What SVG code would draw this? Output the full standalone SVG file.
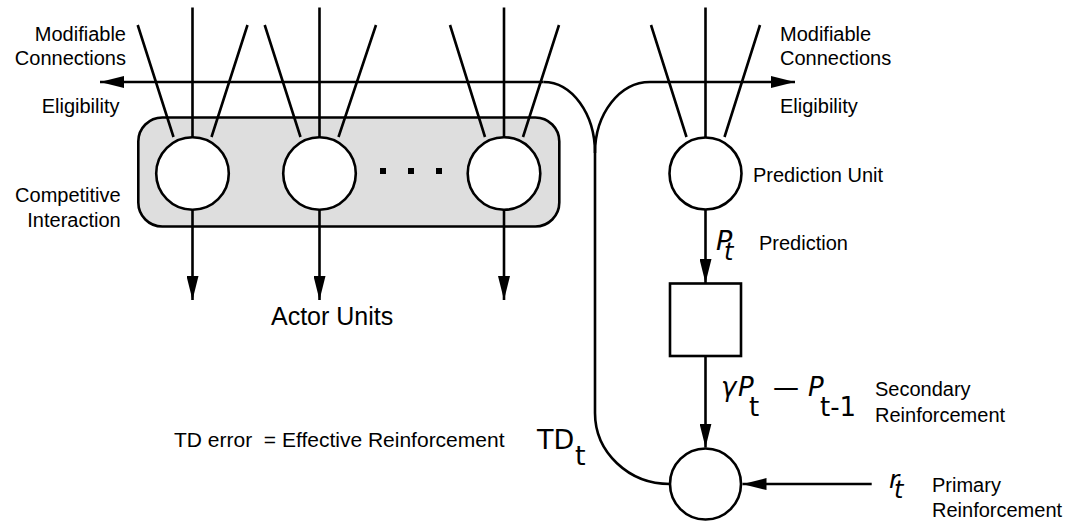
<svg xmlns="http://www.w3.org/2000/svg" width="1074" height="522" viewBox="0 0 1074 522">
<defs>
<style>
.ln{fill:none;stroke:#000;stroke-width:2.6}
.nd{fill:#fff;stroke:#000;stroke-width:2.6}
.lb{font-family:"Liberation Sans",Arial,sans-serif;font-size:20px;fill:#000}
.mt{font-family:"DejaVu Sans",sans-serif;fill:#000}
.it{font-style:italic}
.up{font-style:normal}
</style>
<marker id="ah" markerUnits="userSpaceOnUse" markerWidth="24" markerHeight="12" refX="24" refY="6" orient="auto">
<path d="M0,0 L24,6 L0,12 Z" fill="#000"/>
</marker>
</defs>
<rect width="1074" height="522" fill="#fff"/>

<g id="competition-box">
<rect x="138.3" y="117.5" width="421" height="109" rx="24" ry="24" fill="#dedede" stroke="#000" stroke-width="2.6"/>
<rect x="380" y="168" width="6" height="6" fill="#000"/>
<rect x="408" y="168" width="6" height="6" fill="#000"/>
<rect x="436" y="168" width="6" height="6" fill="#000"/>
</g>

<g id="connectors">
<path class="ln" d="M137.7,25 L173.5,137 M192.5,7.5 L192.5,137 M247.5,25 L211.5,137"/>
<path class="ln" d="M264.7,25 L300.5,137 M319.5,7.5 L319.5,137 M376,25 L338.5,137"/>
<path class="ln" d="M450,25 L485,137 M504,7.5 L504,137 M559,25 L523,137"/>
<path class="ln" d="M651,25 L686.5,137 M705.5,7.5 L705.5,137 M760,25 L724.5,137"/>
<path class="ln" d="M543.5,82 A51.5,71 0 0 1 595,153 L595,413 A75,71 0 0 0 670,484"/>
<path class="ln" d="M595,153 A55,71 0 0 1 650,82 L795,82" marker-end="url(#ah)"/>
<path class="ln" d="M543.5,82 L100,82" marker-end="url(#ah)"/>
<path class="ln" d="M192.5,210 L192.5,300" marker-end="url(#ah)"/>
<path class="ln" d="M319.5,210 L319.5,300" marker-end="url(#ah)"/>
<path class="ln" d="M504,210 L504,300" marker-end="url(#ah)"/>
<path class="ln" d="M705.5,209.5 L705.5,283" marker-end="url(#ah)"/>
<path class="ln" d="M705.5,356 L705.5,447.5" marker-end="url(#ah)"/>
<path class="ln" d="M871.7,484 L742.5,484" marker-end="url(#ah)"/>
</g>

<g id="actor-1"><circle class="nd" cx="192.5" cy="173.5" r="36.3"/></g>
<g id="actor-2"><circle class="nd" cx="319.5" cy="173.5" r="36.3"/></g>
<g id="actor-3"><circle class="nd" cx="504" cy="173.5" r="36.3"/></g>
<g id="prediction-unit"><circle class="nd" cx="705.5" cy="173.5" r="36"/></g>
<g id="delay-box"><rect class="nd" x="670" y="283.5" width="71" height="72.5"/></g>
<g id="td-unit"><circle class="nd" cx="705.5" cy="484" r="35.5"/></g>

<g id="labels">
<text class="lb" x="126" y="41" text-anchor="end">Modifiable</text>
<text class="lb" x="126" y="64.5" text-anchor="end">Connections</text>
<text class="lb" x="119.5" y="113" text-anchor="end">Eligibility</text>
<text class="lb" x="120.7" y="201.5" text-anchor="end">Competitive</text>
<text class="lb" x="120.7" y="227" text-anchor="end">Interaction</text>
<text class="lb" x="780" y="41">Modifiable</text>
<text class="lb" x="780" y="64.5">Connections</text>
<text class="lb" x="780" y="113">Eligibility</text>
<text class="lb" x="753" y="181.7">Prediction Unit</text>
<text class="lb" x="759" y="250">Prediction</text>
<text class="lb" x="875" y="396">Secondary</text>
<text class="lb" x="875" y="421.7">Reinforcement</text>
<text class="lb" x="932" y="491.7">Primary</text>
<text class="lb" x="932" y="516.7">Reinforcement</text>
<text class="lb" x="271" y="325" style="font-size:25px">Actor Units</text>
<text class="lb" x="174" y="447" style="font-size:21px" xml:space="preserve">TD error  = Effective Reinforcement</text>
<text class="mt" x="537" y="449" style="font-size:27px">TD<tspan dx="0.7" dy="16">t</tspan></text>
<text class="mt it" x="716" y="250" style="font-size:27px">P<tspan dx="-8.3" dy="10" style="font-size:24px">t</tspan></text>
<text class="mt it" x="721" y="396" style="font-size:26px">γ<tspan dx="1.6">P</tspan><tspan class="up" dx="-4.7" dy="20">t</tspan><tspan class="up" dx="13.8" dy="-20">—</tspan><tspan dx="9">P</tspan><tspan class="up" dx="-3.7" dy="20">t-1</tspan></text>
<text class="mt it" x="889" y="488" style="font-size:25px">r<tspan dx="-5.3" dy="10" style="font-size:24px">t</tspan></text>
</g>
</svg>
